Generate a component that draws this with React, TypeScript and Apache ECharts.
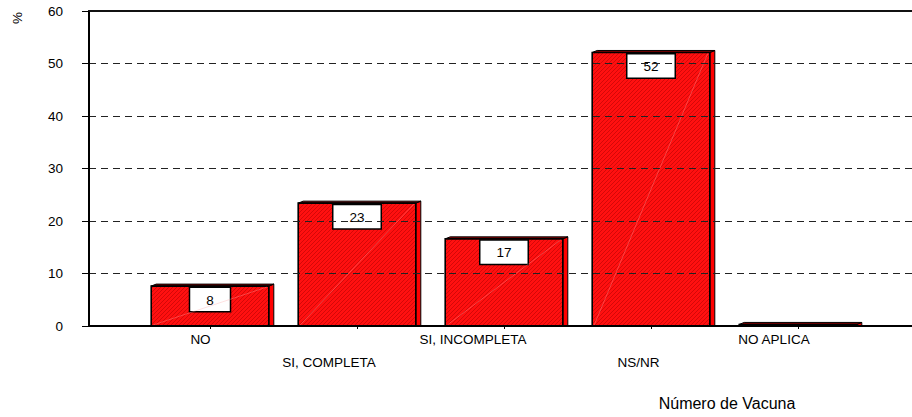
import React, { useEffect, useRef } from "react";
import * as echarts from "echarts";

const categories = ["NO", "SI, COMPLETA", "SI, INCOMPLETA", "NS/NR", "NO APLICA"];
const values = [7.6, 23.4, 16.6, 52.1, 0.3];
const valueLabels = ["8", "23", "17", "52", ""];
const yMin = 0;
const yMax = 60;
const yInterval = 10;
const yAxisTitle = "%";
const xAxisTitle = "Número de Vacuna";

const FONT = "'Liberation Sans', Arial, sans-serif";

function makeHatch(): any {
  const c = document.createElement("canvas");
  c.width = 4;
  c.height = 4;
  const ctx = c.getContext("2d");
  if (!ctx) return "#f01515";
  ctx.fillStyle = "#ff1010";
  ctx.fillRect(0, 0, 4, 4);
  ctx.strokeStyle = "rgba(170,0,0,0.5)";
  ctx.lineWidth = 1;
  ctx.beginPath();
  ctx.moveTo(0, 4);
  ctx.lineTo(4, 0);
  ctx.moveTo(-2, 2);
  ctx.lineTo(2, -2);
  ctx.moveTo(2, 6);
  ctx.lineTo(6, 2);
  ctx.stroke();
  return { image: c, repeat: "repeat" };
}

export default function App() {
  const ref = useRef<HTMLDivElement>(null);
  useEffect(() => {
    if (!ref.current) return;
    const chart = echarts.init(ref.current, undefined, { renderer: "svg" });
    const hatch = makeHatch();
    const labelShift = [
      { padding: [0, 19, 0, 0] },
      { padding: [23, 56, 0, 0] },
      { padding: [0, 62, 0, 0] },
      { padding: [23, 25, 0, 0] },
      { padding: [0, 48, 0, 0] },
    ];
    const rich: any = {};
    labelShift.forEach((s, i) => {
      rich["l" + i] = { ...s, fontFamily: FONT, fontSize: 13.5, color: "#000" };
    });

    const option: any = {
      animation: false,
      backgroundColor: "#fff",
      grid: [
        { left: 89, top: 11, right: 0, bottom: 91 },
        { left: 136.5, top: 11, right: 40.5, bottom: 91 },
      ],
      xAxis: [
        {
          gridIndex: 0,
          type: "value",
          min: 0,
          max: 1,
          position: "bottom",
          axisLine: { show: true, lineStyle: { color: "#000", width: 2 } },
          axisTick: { show: false },
          axisLabel: { show: false },
          splitLine: { show: false },
          z: 10,
        },
        {
          gridIndex: 0,
          type: "value",
          min: 0,
          max: 1,
          position: "top",
          axisLine: { show: true, lineStyle: { color: "#111", width: 2 } },
          axisTick: { show: false },
          axisLabel: { show: false },
          splitLine: { show: false },
          z: 10,
        },
        {
          gridIndex: 1,
          type: "category",
          data: categories,
          position: "bottom",
          axisLine: { show: false },
          axisTick: { show: true, alignWithLabel: true, length: 3, lineStyle: { color: "#000", width: 1 } },
          axisLabel: {
            margin: 6,
            interval: 0,
            fontFamily: FONT,
            fontSize: 13.5,
            color: "#000",
            formatter: (val: string, idx: number) => `{l${idx}|${val}}`,
            rich,
          },
          splitLine: { show: false },
          z: 10,
        },
      ],
      yAxis: [
        {
          gridIndex: 0,
          type: "value",
          min: yMin,
          max: yMax,
          interval: yInterval,
          axisLine: { show: true, lineStyle: { color: "#000", width: 2 } },
          axisTick: { show: true, length: 7, lineStyle: { color: "#000", width: 1 } },
          axisLabel: { margin: 26, fontFamily: FONT, fontSize: 13.5, color: "#000" },
          splitLine: { show: true, lineStyle: { color: "#222", width: 1, type: [7, 5] } },
          z: 10,
        },
        {
          gridIndex: 1,
          type: "value",
          min: yMin,
          max: yMax,
          show: false,
          splitLine: { show: false },
        },
      ],
      graphic: [
        {
          type: "text",
          x: 17,
          y: 18,
          rotation: Math.PI / 2,
          style: {
            text: yAxisTitle,
            fontFamily: FONT,
            fontSize: 13.5,
            fill: "#000",
            align: "center",
            verticalAlign: "middle",
          },
        },
        {
          type: "text",
          x: 727,
          y: 403,
          style: {
            text: xAxisTitle,
            fontFamily: FONT,
            fontSize: 16,
            fill: "#000",
            align: "center",
            verticalAlign: "middle",
          },
        },
      ],
      series: [
        {
          type: "custom",
          xAxisIndex: 2,
          yAxisIndex: 1,
          z: 2,
          data: values.map((v, i) => [i, v]),
          renderItem: (params: any, api: any) => {
            const idx = api.value(0);
            const v = api.value(1);
            const top = api.coord([idx, v]);
            const base = api.coord([idx, 0]);
            const bw = api.size([1, 0])[0] * 0.8;
            const xl = top[0] - bw / 2;
            const xr = xl + bw;
            const yt = top[1];
            const yb = base[1];
            const d = 5;
            const children: any[] = [
              {
                type: "polygon",
                shape: { points: [[xr, yt], [xr + d, yt - 2], [xr + d, yb], [xr, yb]] },
                style: { fill: "#ff0000", stroke: "#000", lineWidth: 1 },
              },
              {
                type: "polygon",
                shape: { points: [[xl, yt], [xl + d, yt - 2], [xr + d, yt - 2], [xr, yt]] },
                style: { fill: "#900000", stroke: "#000", lineWidth: 1 },
              },
              {
                type: "rect",
                shape: { x: xl, y: yt, width: bw, height: Math.max(yb - yt, 0.5) },
                style: { fill: hatch, stroke: "#000", lineWidth: 1.6 },
              },
            ];
            const lab = valueLabels[idx];
            if (lab) {
              children.push({
                type: "text",
                x: top[0],
                y: yt + 2,
                style: {
                  text: lab,
                  fontFamily: FONT,
                  fontSize: 13.5,
                  fill: "#000",
                  align: "center",
                  verticalAlign: "top",
                  backgroundColor: "#fff",
                  borderColor: "#000",
                  borderWidth: 1.5,
                  padding: [5, 16, 4, 16],
                },
              });
              children.push({
                type: "line",
                shape: { x1: xl + 2, y1: yb - 1, x2: xr - 2, y2: yt + 1 },
                style: { stroke: "rgba(255,170,170,0.35)", lineWidth: 1 },
              });
            }
            return { type: "group", children };
          },
        },
      ],
    };
    chart.setOption(option);
    return () => chart.dispose();
  }, []);
  return (
    <div
      ref={ref}
      style={{ position: "fixed", left: 0, top: 0, width: 912, height: 417 }}
    />
  );
}
